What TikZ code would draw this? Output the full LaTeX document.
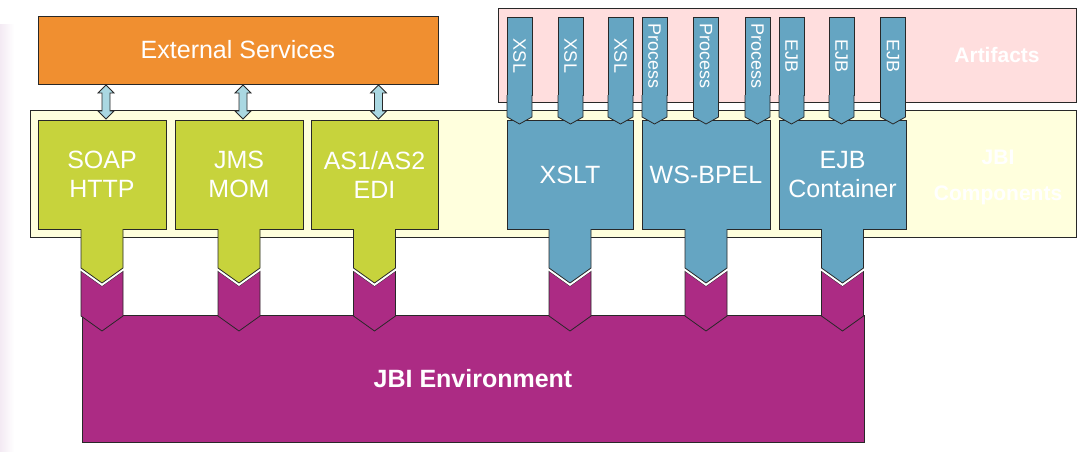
\documentclass[tikz,border=0pt]{standalone}
\usepackage{fontspec}
\setmainfont{Liberation Sans}
\usepackage{graphicx}
\usetikzlibrary{calc}
\definecolor{orangeC}{RGB}{240,143,48}
\definecolor{greenC}{RGB}{199,211,60}
\definecolor{blueC}{RGB}{101,165,194}
\definecolor{purpleC}{RGB}{172,43,132}
\definecolor{pinkC}{RGB}{255,222,222}
\definecolor{yellowC}{RGB}{255,255,221}
\definecolor{arrowC}{RGB}{170,216,226}
\definecolor{lineC}{RGB}{40,40,40}
\definecolor{lavC}{RGB}{243,234,243}
\tikzset{
  every node/.style={inner sep=0pt, outer sep=0pt},
  outl/.style={draw=lineC, line width=0.8pt},
  region/.style={outl, anchor=north west},
  compbox/.style={outl, anchor=north west, minimum width=#1, minimum height=109,
    align=center, text=white, font=\fontsize{25}{29}\selectfont},
  tabbox/.style={outl, fill=blueC, minimum width=25, minimum height=78,
    text=white, font=\fontsize{18}{20}\selectfont},
  pics/link/.style={code={
    \fill[purpleC] (-21,42)--(0,57)--(21,42)--(21,87)--(0,102)--(-21,87)--cycle;
    \draw[outl] (-21,42)--(0,57)--(21,42)--(21,87)--(0,102)--(-21,87)--cycle;
    \draw[white, line width=4pt] (-21,39.5)--(0,54.5)--(21,39.5);
    \fill[#1] (-21,0)--(-21,39)--(0,54)--(21,39)--(21,0)--cycle;
    \draw[outl] (-21,0)--(-21,39)--(0,54)--(21,39)--(21,0);
  }},
  pics/tabtip/.style={code={
    \fill[blueC] (-12.5,0)--(-12.5,22)--(0,29)--(12.5,22)--(12.5,0)--cycle;
    \draw[outl] (-12.5,0)--(-12.5,22)--(0,29)--(12.5,22)--(12.5,0);
  }},
  pics/dblarrow/.style={code={
    \draw[outl, fill=arrowC] (0,0)--(8,8)--(4,8)--(4,26)--(8,26)--(0,34)--(-8,26)--(-4,26)--(-4,8)--(-8,8)--cycle;
  }}
}
\begin{document}
\begin{tikzpicture}[x=1pt,y=-1pt]
\useasboundingbox (0,0) rectangle (1086,452);
\fill[white] (0,0) rectangle (1086,452);
\shade[left color=lavC, right color=white] (0,25) rectangle (14,452);

% regions
\node[region, fill=pinkC, minimum width=578, minimum height=94] (art) at (498,8) {};
\node[text=white, font=\bfseries\fontsize{21}{24}\selectfont] (artlbl) at (997,55) {Artifacts};
\node[region, fill=yellowC, minimum width=1046, minimum height=127] (comp) at (30,110) {};
\node[text=white, align=center, font=\bfseries\fontsize{21}{36}\selectfont] (complbl) at (998,177) {JBI\\Components};

% external services
\node[region, fill=orangeC, minimum width=400, minimum height=68, text=white,
      font=\fontsize{25}{29}\selectfont] (ext) at (38,16) {External Services};

% components
\node[compbox=128, fill=greenC] (soap) at (38,120) {SOAP\\HTTP};
\node[compbox=128, fill=greenC] (jms) at (175,120) {JMS\\MOM};
\node[compbox=127, fill=greenC] (edi) at (311,120) {AS1/AS2\\EDI};
\node[compbox=126, fill=blueC] (xslt) at (507,120) {XSLT};
\node[compbox=128, fill=blueC] (bpel) at (642,120) {WS-BPEL};
\node[compbox=127, fill=blueC] (ejb) at (779,120) {EJB\\Container};

% double arrows
\pic at ($(soap.north |- ext.south)+(4,1)$) {dblarrow};
\pic at ($(jms.north |- ext.south)+(4,1)$) {dblarrow};
\pic at ($(edi.north |- ext.south)+(4,1)$) {dblarrow};

% artifact tabs
\foreach \n/\x/\t in {x1/519.5/XSL, x2/570.5/XSL, x3/620.5/XSL,
                      p1/654.5/Process, p2/706/Process, p3/757.5/Process,
                      e1/791.5/EJB, e2/841.5/EJB, e3/893/EJB}{
  \node[tabbox] (\n) at (\x,56) {\rotatebox{-90}{\t}};
  \pic at (\n.south) {tabtip};
}

% JBI environment
\node[region, fill=purpleC, minimum width=782, minimum height=127, text=white,
      font=\bfseries\fontsize{25}{29}\selectfont] (env) at (82,315) {JBI Environment};

% links to environment
\pic at (soap.south) {link=greenC};
\pic at (jms.south) {link=greenC};
\pic at (edi.south) {link=greenC};
\pic at (xslt.south) {link=blueC};
\pic at (bpel.south) {link=blueC};
\pic at (ejb.south) {link=blueC};
\end{tikzpicture}
\end{document}
